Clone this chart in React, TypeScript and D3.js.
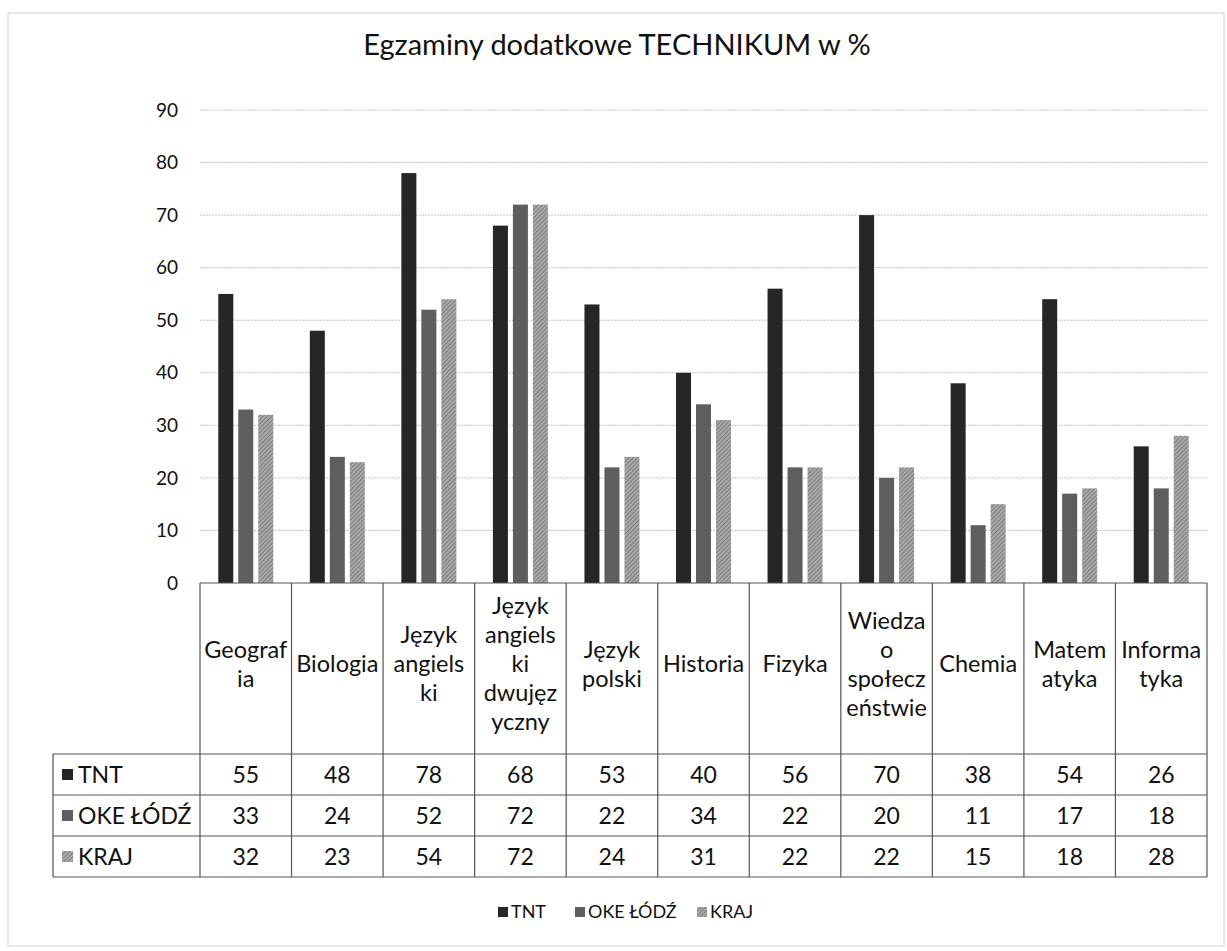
import * as d3 from "d3";

const categories = [
  "Geografia",
  "Biologia",
  "Język angielski",
  "Język angielski dwujęzyczny",
  "Język polski",
  "Historia",
  "Fizyka",
  "Wiedza o społeczeństwie",
  "Chemia",
  "Matematyka",
  "Informatyka",
];

// wrapped as in the table header
const categoryLines = [
  ["Geograf", "ia"],
  ["Biologia"],
  ["Język", "angiels", "ki"],
  ["Język", "angiels", "ki", "dwujęz", "yczny"],
  ["Język", "polski"],
  ["Historia"],
  ["Fizyka"],
  ["Wiedza", "o", "społecz", "eństwie"],
  ["Chemia"],
  ["Matem", "atyka"],
  ["Informa", "tyka"],
];

const seriesNames = ["TNT", "OKE ŁÓDŹ", "KRAJ"];
const tnt = [55, 48, 78, 68, 53, 40, 56, 70, 38, 54, 26];
const oke = [33, 24, 52, 72, 22, 34, 22, 20, 11, 17, 18];
const kraj = [32, 23, 54, 72, 24, 31, 22, 22, 15, 18, 28];
const yTicks = [0, 10, 20, 30, 40, 50, 60, 70, 80, 90];

const series = [tnt, oke, kraj];
const fills = ["#262626", "#5e5e5e", "url(#hatch)"];
const font = "Lato, 'Open Sans', sans-serif";

const W = 1227;
const H = 951;
const left = 200;
const right = 1207;
const plotTop = 110;
const plotBottom = 583;
const headerBottom = 754;
const rowH = 41;
const tableLeft = 53;

export default function App() {
  const x = d3.scaleBand<string>().domain(categories).range([left, right]);
  const y = d3.scaleLinear().domain([0, 90]).range([plotBottom, plotTop]);
  const barW = 15;
  const gap = 5;
  const groupW = barW * 3 + gap * 2;
  const bw = x.bandwidth();

  return (
    <svg
      width={W}
      height={H}
      style={{ position: "absolute", left: 0, top: 0, background: "#fff" }}
      fontFamily={font}
    >
      <defs>
        <pattern id="hatch" width="3" height="3" patternUnits="userSpaceOnUse" patternTransform="rotate(45)">
          <rect width="3" height="3" fill="#a8a8a8" />
          <line x1="0" y1="0" x2="0" y2="3" stroke="#6e6e6e" strokeWidth="1.4" />
        </pattern>
      </defs>
      <rect x={8} y={13} width={1216} height={933} fill="#fff" stroke="#d0d0d0" strokeWidth={1} />
      <text x={617} y={55} textAnchor="middle" fontSize={29} fill="#111">
        Egzaminy dodatkowe TECHNIKUM w %
      </text>

      {yTicks.map((t) => (
        <g key={t}>
          {t > 0 && (
            <line x1={left} x2={right} y1={y(t)} y2={y(t)} stroke="#c4c4c4" strokeWidth={1} strokeDasharray="2 1" />
          )}
          <text x={178} y={y(t)} dy="0.35em" textAnchor="end" fontSize={19} fill="#111">
            {t}
          </text>
        </g>
      ))}

      {categories.map((c, i) => (
        <g key={c}>
          {series.map((s, j) => (
            <rect
              key={j}
              x={(x(c) as number) + (bw - groupW) / 2 + j * (barW + gap)}
              y={y(s[i])}
              width={barW}
              height={y(0) - y(s[i])}
              fill={fills[j]}
            />
          ))}
        </g>
      ))}

      {/* table */}
      <g stroke="#555" strokeWidth={1.2} fill="none">
        <line x1={left} x2={right} y1={plotBottom} y2={plotBottom} />
        <line x1={tableLeft} x2={right} y1={headerBottom} y2={headerBottom} />
        {[1, 2, 3].map((r) => (
          <line key={r} x1={tableLeft} x2={right} y1={headerBottom + r * rowH} y2={headerBottom + r * rowH} />
        ))}
        <line x1={tableLeft} x2={tableLeft} y1={headerBottom} y2={headerBottom + 3 * rowH} />
        {categories.map((c) => (
          <line key={c} x1={x(c)} x2={x(c)} y1={plotBottom} y2={headerBottom + 3 * rowH} />
        ))}
        <line x1={right} x2={right} y1={plotBottom} y2={headerBottom + 3 * rowH} />
      </g>

      {categories.map((c, i) => {
        const lines = categoryLines[i];
        const lh = 29;
        const cy = 664 - ((lines.length - 1) * lh) / 2;
        return (
          <text key={c} textAnchor="middle" fontSize={23.5} fill="#111">
            {lines.map((l, k) => (
              <tspan key={k} x={(x(c) as number) + bw / 2} y={cy + k * lh} dy="0.35em">
                {l}
              </tspan>
            ))}
          </text>
        );
      })}

      {seriesNames.map((name, j) => {
        const cy = headerBottom + j * rowH + rowH / 2;
        return (
          <g key={name}>
            <rect x={62} y={cy - 5.5} width={11} height={11} fill={fills[j]} />
            <text x={78} y={cy} dy="0.35em" fontSize={23} fill="#111">
              {name}
            </text>
            {categories.map((c, i) => (
              <text key={c} x={(x(c) as number) + bw / 2} y={cy} dy="0.35em" textAnchor="middle" fontSize={23} fill="#111">
                {series[j][i]}
              </text>
            ))}
          </g>
        );
      })}

      {/* legend */}
      {seriesNames.map((name, j) => {
        const lx = [498, 575, 697][j];
        return (
          <g key={name}>
            <rect x={lx} y={907} width={10} height={10} fill={fills[j]} />
            <text x={lx + 13} y={912} dy="0.35em" fontSize={18} fill="#111">
              {name}
            </text>
          </g>
        );
      })}
    </svg>
  );
}
